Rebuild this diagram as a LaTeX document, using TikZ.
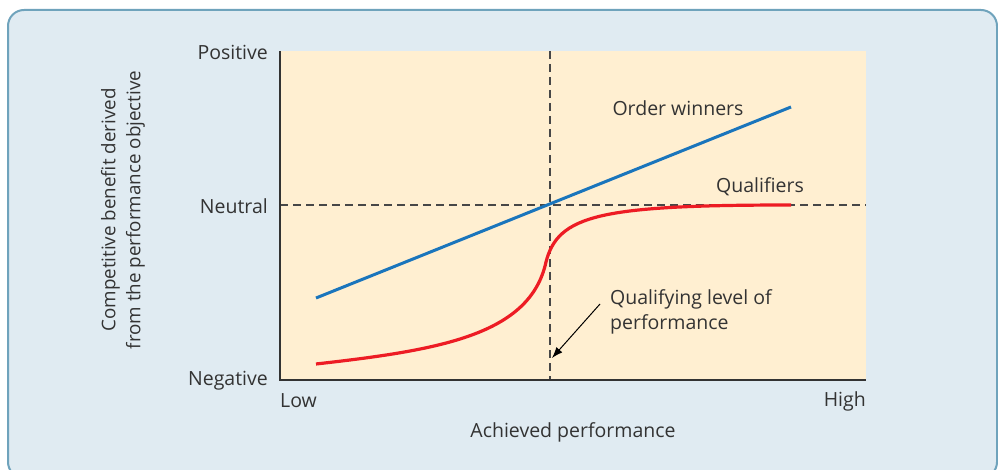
\documentclass[tikz,border=0pt]{standalone}
\usepackage{fontspec}
\setmainfont{Open Sans}
\usetikzlibrary{arrows.meta}
\definecolor{panel}{HTML}{E0EBF2}
\definecolor{panelborder}{HTML}{6FA3BC}
\definecolor{plotbg}{HTML}{FFEFD1}
\definecolor{winblue}{HTML}{1A75BC}
\definecolor{qualred}{HTML}{ED1C24}
\definecolor{txt}{HTML}{333333}
\tikzset{
  lbl/.style={font=\fontsize{19.5}{22}\selectfont, text=txt, inner sep=0pt},
  guide/.style={draw=txt!90, line width=1.1pt, dash pattern=on 8pt off 5pt},
  axisline/.style={draw=txt, line width=1.2pt},
}
\begin{document}
\begin{tikzpicture}[x=1pt,y=-1pt]
\useasboundingbox (0,0) rectangle (998,470);
\fill[panel, draw=panelborder, line width=2pt, rounded corners=16pt] (8,10) rectangle (997,478);
\fill[plotbg] (280,51) rectangle (866,380);
\coordinate (vtop) at (550,51);
\coordinate (vbot) at (550,380);
\coordinate (hl) at (280,205);
\coordinate (hr) at (866,205);
\draw[guide] (vtop) -- (vbot);
\draw[guide] (hl) -- (hr);
\coordinate (o) at (280,380);
\coordinate (ytop) at (280,51);
\coordinate (xend) at (866,380);
\draw[axisline] (ytop) -- (o) -- (xend);
% blue line
\coordinate (b1) at (316,298);
\coordinate (b2) at (791,107);
\draw[winblue, line width=3pt] (b1) -- (b2);
% red curve
\coordinate (r1) at (316,364);
\coordinate (r2) at (546,262);
\coordinate (r3) at (791,205);
\draw[qualred, line width=3.2pt] (r1) .. controls (440,350) and (530,335) .. (r2)
  .. controls (558,215) and (600,205) .. (r3);
% labels
\node[lbl, anchor=east] (pos) at (268,52) {Positive};
\node[lbl, anchor=east] (neu) at (268,206) {Neutral};
\node[lbl, anchor=east] (neg) at (268,381) {Negative};
\node[lbl, anchor=west] (low) at (280,401) {Low};
\node[lbl, anchor=east] (high) at (866,401) {High};
\node[lbl] (xlab) at (573,432) {Achieved performance};
\node[lbl, rotate=90, align=center, font=\fontsize{18.8}{25}\selectfont] (ylab) at (123,210) {Competitive benefit derived\\from the performance objective};
\node[lbl] (ow) at (678,108) {Order winners};
\node[lbl] (q) at (760,187) {Qualifiers};
\node[lbl, anchor=north west, align=left, font=\fontsize{19.5}{25}\selectfont] (ql) at (610,289) {Qualifying level of\\performance};
\coordinate (tip) at (552,358);
\draw[-{Latex[length=11pt,width=8pt]}, line width=1pt, black] (600,304) -- (tip);
\end{tikzpicture}
\end{document}
